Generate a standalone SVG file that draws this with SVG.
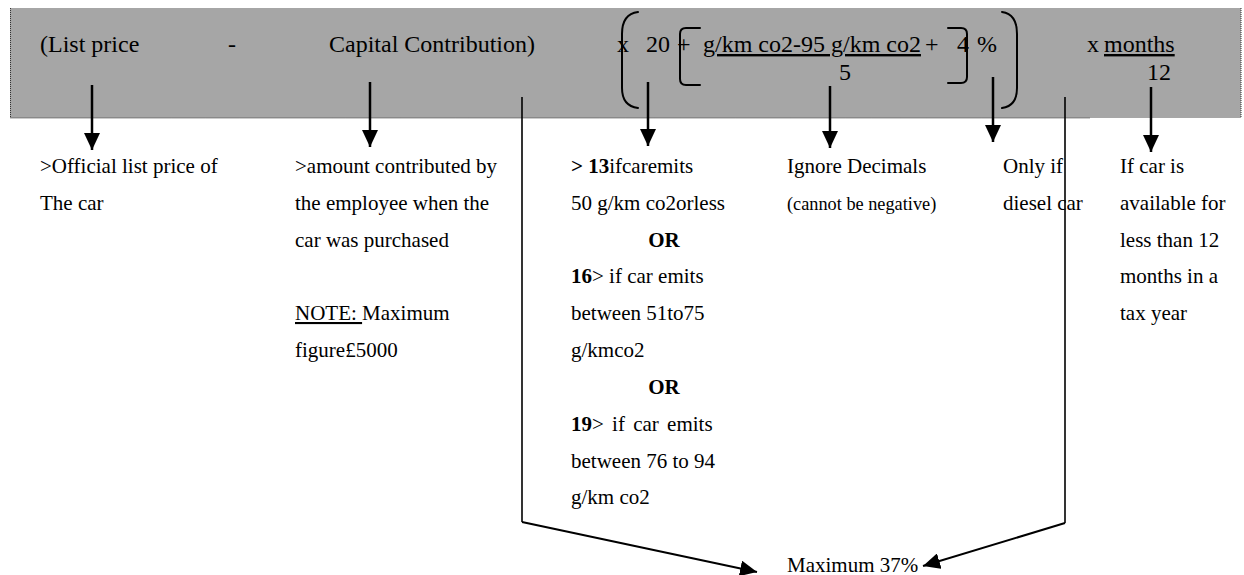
<svg xmlns="http://www.w3.org/2000/svg" width="1244" height="575" viewBox="0 0 1244 575">
<style>
text{fill:#000}
.top{font-size:24px}
.lo{font-size:21px}
.sm{font-size:18.3px}
.b{font-weight:bold}
.u{text-decoration:underline}
.br{fill:none;stroke:#000;stroke-width:2;stroke-linecap:round}
.ar{fill:none;stroke:#000;stroke-width:2.5}
.ln{fill:none;stroke:#000;stroke-width:1.6}
.dl{fill:none;stroke:#000;stroke-width:2}
</style>
<defs>
<marker id="ah" markerUnits="userSpaceOnUse" markerWidth="17" markerHeight="16" refX="17" refY="8" orient="auto">
<path d="M0,0 L17,8 L0,16 z" fill="#000"/>
</marker>
</defs>
<rect width="1244" height="575" fill="#fff"/>
<g id="band">
<rect x="10" y="8" width="1231" height="110" fill="#a6a6a6"/>
<path d="M10.5,8 V118 H1090 M1241,8 V118" fill="none" stroke="#333" stroke-width="1" stroke-dasharray="1,1"/>
</g>
<g font-family="Liberation Serif, DejaVu Serif, serif">
<g id="formula">
<text class="top" x="40" y="52">(List price</text>
<text class="top" x="228" y="52">-</text>
<text class="top" x="329" y="52">Capital Contribution)</text>
<text class="top" x="617" y="52">x</text>
<text class="top" x="646" y="52">20</text>
<text class="top" x="677" y="52">+</text>
<text class="top u" x="703" y="52">g/km co2-95 g/km co2</text>
<text class="top" x="925" y="52">+</text>
<text class="top" x="957" y="52">4</text>
<text class="top" x="977" y="52">%</text>
<text class="top" x="839" y="80">5</text>
<text class="top" x="1087" y="52">x</text>
<text class="top u" x="1104" y="52">months</text>
<text class="top" x="1147" y="80">12</text>
<path class="br" d="M638,12 Q622,14 622,34 V88 Q622,106 638,108"/>
<path class="br" d="M1002,12 Q1017,14 1017,34 V88 Q1017,106 1002,108"/>
<path class="br" d="M700,28 H686 Q680,28 680,34 V79 Q680,85 686,85 H700"/>
<path class="br" d="M948,28 H961 Q967,28 967,34 V77 Q967,83 961,83 H948"/>
</g>
<g id="n1">
<text class="lo" x="40" y="173">&gt;Official list price of</text>
<text class="lo" x="40" y="210">The car</text>
</g>
<g id="n2">
<text class="lo" x="295" y="173">&gt;amount contributed by</text>
<text class="lo" x="295" y="210">the employee when the</text>
<text class="lo" x="295" y="247">car was purchased</text>
<text class="lo" x="295" y="320"><tspan class="u">NOTE: </tspan>Maximum</text>
<text class="lo" x="295" y="357">figure£5000</text>
</g>
<g id="n3">
<text class="lo" x="571" y="173"><tspan class="b">&gt; 13</tspan>ifcaremits</text>
<text class="lo" x="571" y="210">50 g/km co2orless</text>
<text class="lo b" x="664" y="247" text-anchor="middle">OR</text>
<text class="lo" x="571" y="283"><tspan class="b">16</tspan>&gt; if car emits</text>
<text class="lo" x="571" y="320">between 51to75</text>
<text class="lo" x="571" y="357">g/kmco2</text>
<text class="lo b" x="664" y="394" text-anchor="middle">OR</text>
<text class="lo" x="571" y="431" word-spacing="3"><tspan class="b">19</tspan>&gt; if car emits</text>
<text class="lo" x="571" y="468">between 76 to 94</text>
<text class="lo" x="571" y="504">g/km co2</text>
</g>
<g id="n4">
<text class="lo" x="787" y="173">Ignore Decimals</text>
<text class="sm" x="787" y="210">(cannot be negative)</text>
</g>
<g id="n5">
<text class="lo" x="1003" y="173">Only if</text>
<text class="lo" x="1003" y="210">diesel car</text>
</g>
<g id="n6">
<text class="lo" x="1120" y="173">If car is</text>
<text class="lo" x="1120" y="210">available for</text>
<text class="lo" x="1120" y="247">less than 12</text>
<text class="lo" x="1120" y="283">months in a</text>
<text class="lo" x="1120" y="320">tax year</text>
</g>
<g id="n7">
<text class="lo" x="787" y="572">Maximum 37%</text>
</g>
</g>
<g id="connectors">
<path class="ar" d="M92,85 V150" marker-end="url(#ah)"/>
<path class="ar" d="M370,82 V147" marker-end="url(#ah)"/>
<path class="ar" d="M648,82 V146" marker-end="url(#ah)"/>
<path class="ar" d="M830,86 V148" marker-end="url(#ah)"/>
<path class="ar" d="M993,77 V142" marker-end="url(#ah)"/>
<path class="ar" d="M1151,87 V152" marker-end="url(#ah)"/>
<path class="ln" d="M522,97 V522"/>
<path class="dl" d="M522,522 L757,572" marker-end="url(#ah)"/>
<path class="ln" d="M1065,97 V523"/>
<path class="dl" d="M1065,523 L923,566" marker-end="url(#ah)"/>
</g>
</svg>
